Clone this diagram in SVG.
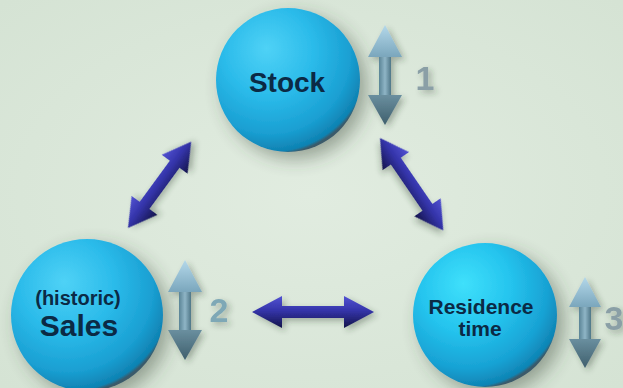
<svg xmlns="http://www.w3.org/2000/svg" width="623" height="388" viewBox="0 0 623 388">
  <defs>
    <radialGradient id="bg" cx="50%" cy="50%" r="70%">
      <stop offset="0" stop-color="#e1ece0"/>
      <stop offset="1" stop-color="#d5e3d4"/>
    </radialGradient>
    <radialGradient id="sphere" cx="38%" cy="32%" r="70%" fx="35%" fy="28%">
      <stop offset="0" stop-color="#4fd2f6"/>
      <stop offset="0.45" stop-color="#2bbbea"/>
      <stop offset="0.8" stop-color="#1a9fd2"/>
      <stop offset="0.97" stop-color="#0f82b2"/>
      <stop offset="1" stop-color="#3a5a6a"/>
    </radialGradient>
    <radialGradient id="sphere2" cx="38%" cy="32%" r="70%" fx="35%" fy="28%">
      <stop offset="0" stop-color="#3fe0fb"/>
      <stop offset="0.45" stop-color="#25c4ee"/>
      <stop offset="0.8" stop-color="#18a2d4"/>
      <stop offset="0.97" stop-color="#0f84b4"/>
      <stop offset="1" stop-color="#3a5a6a"/>
    </radialGradient>
    <linearGradient id="navy" x1="0" y1="0" x2="0" y2="1">
      <stop offset="0" stop-color="#5252d2"/>
      <stop offset="0.45" stop-color="#3434aa"/>
      <stop offset="1" stop-color="#14144a"/>
    </linearGradient>
    <linearGradient id="upHead" x1="0" y1="0" x2="0" y2="1">
      <stop offset="0" stop-color="#b4d8ea"/>
      <stop offset="1" stop-color="#7aa6bc"/>
    </linearGradient>
    <linearGradient id="shaft" x1="0" y1="0" x2="1" y2="0">
      <stop offset="0" stop-color="#5a8496"/>
      <stop offset="0.5" stop-color="#8fb5c6"/>
      <stop offset="1" stop-color="#4e7687"/>
    </linearGradient>
    <linearGradient id="downHead" x1="0" y1="0" x2="0" y2="1">
      <stop offset="0" stop-color="#6a8f9f"/>
      <stop offset="1" stop-color="#3f5f6d"/>
    </linearGradient>
    <filter id="halo" x="-40%" y="-40%" width="180%" height="180%">
      <feGaussianBlur in="SourceAlpha" stdDeviation="9"/>
      <feOffset dx="7" dy="7" result="b"/>
      <feComponentTransfer in="b" result="s">
        <feFuncA type="linear" slope="0.45"/>
      </feComponentTransfer>
      <feFlood flood-color="#3c4a3a"/>
      <feComposite in2="s" operator="in"/>
      <feMerge>
        <feMergeNode/>
        <feMergeNode in="SourceGraphic"/>
      </feMerge>
    </filter>
    <filter id="soft" x="-30%" y="-30%" width="160%" height="160%">
      <feGaussianBlur in="SourceAlpha" stdDeviation="3"/>
      <feOffset dx="3" dy="3" result="b"/>
      <feComponentTransfer in="b" result="s">
        <feFuncA type="linear" slope="0.35"/>
      </feComponentTransfer>
      <feFlood flood-color="#2a3a2a"/>
      <feComposite in2="s" operator="in"/>
      <feMerge>
        <feMergeNode/>
        <feMergeNode in="SourceGraphic"/>
      </feMerge>
    </filter>
  </defs>
  <style>
    .label { font-family: "Liberation Sans", Arial, sans-serif; font-weight: bold; fill: #0b2a45; text-anchor: middle; }
    .num { font-family: "Liberation Sans", Arial, sans-serif; font-weight: bold; text-anchor: middle; }
    .link { fill: url(#navy); filter: url(#soft); }
  </style>

  <rect width="623" height="388" fill="url(#bg)"/>

  <!-- Two-way links between the three quantities -->
  <g id="connectors">
    <!-- Sales <-> Stock -->
    <path class="link" transform="translate(128,228) rotate(-53.8)" d="M0,0 L28,-16 L28,-6 L79,-6 L79,-16 L107,0 L79,16 L79,6 L28,6 L28,16 Z"/>
    <!-- Stock <-> Residence time -->
    <path class="link" transform="translate(380,138) rotate(55.6)" d="M0,0 L28,-16 L28,-6 L84,-6 L84,-16 L112,0 L84,16 L84,6 L28,6 L28,16 Z"/>
    <!-- Sales <-> Residence time -->
    <path class="link" transform="translate(252,312)" d="M0,0 L30,-16 L30,-6 L92,-6 L92,-16 L122,0 L92,16 L92,6 L30,6 L30,16 Z"/>
  </g>

  <g id="node-stock">
    <circle cx="288" cy="80" r="72" fill="url(#sphere)" filter="url(#halo)"/>
    <text class="label" x="287" y="92" font-size="28">Stock</text>
  </g>

  <g id="node-sales">
    <circle cx="87" cy="315" r="76" fill="url(#sphere)" filter="url(#halo)"/>
    <text class="label" x="78" y="305" font-size="20">(historic)</text>
    <text class="label" x="79" y="336" font-size="30">Sales</text>
  </g>

  <g id="node-residence">
    <circle cx="485" cy="315" r="72" fill="url(#sphere2)" filter="url(#halo)"/>
    <text class="label" x="481" y="314" font-size="21">Residence</text>
    <text class="label" x="480" y="336" font-size="21">time</text>
  </g>

  <!-- Up/down change indicators -->
  <g id="indicator-1" filter="url(#soft)">
    <rect x="379" y="56" width="12" height="40" fill="url(#shaft)"/>
    <path d="M385,25 L402,57 L368,57 Z" fill="url(#upHead)"/>
    <path d="M368,95 L402,95 L385,125 Z" fill="url(#downHead)"/>
    <text class="num" x="425" y="90" font-size="34" fill="#8a9fa6">1</text>
  </g>
  <g id="indicator-2" filter="url(#soft)">
    <rect x="179" y="291" width="12" height="40" fill="url(#shaft)"/>
    <path d="M185,260 L202,292 L168,292 Z" fill="url(#upHead)"/>
    <path d="M168,330 L202,330 L185,360 Z" fill="url(#downHead)"/>
    <text class="num" x="219" y="322" font-size="34" fill="#7ea8b6">2</text>
  </g>
  <g id="indicator-3" filter="url(#soft)">
    <rect x="579" y="306" width="12" height="34" fill="url(#shaft)"/>
    <path d="M585,277 L601,307 L569,307 Z" fill="url(#upHead)"/>
    <path d="M569,339 L601,339 L585,368 Z" fill="url(#downHead)"/>
    <text class="num" x="614" y="330" font-size="34" fill="#8a9fa6">3</text>
  </g>
</svg>
